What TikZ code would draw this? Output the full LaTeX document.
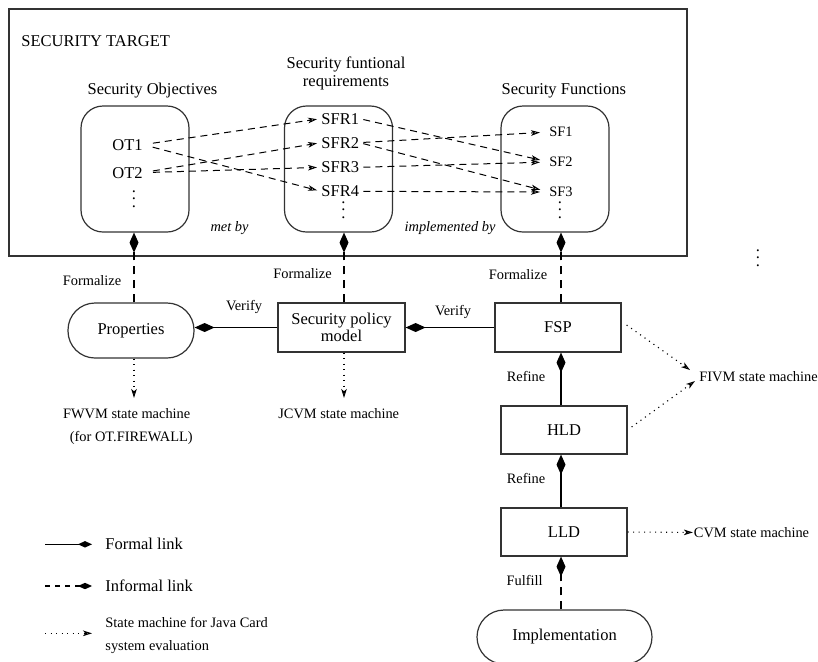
\documentclass[tikz,border=0pt]{standalone}
\usepackage{fontspec}
\setmainfont{Liberation Serif}
\usetikzlibrary{arrows.meta,calc}

\tikzset{
  bigtxt/.style={font=\fontsize{8.25}{9}\selectfont},
  smalltxt/.style={font=\fontsize{7.2}{8}\selectfont},
  slanttxt/.style={font=\fontsize{7.2}{8}\selectfont\itshape},
  dotcolumn/.style={inner sep=0pt, anchor=south, align=center, font=\fontsize{8.25}{3.75}\selectfont},
  frame/.style={draw=black!80, line width=0.6pt},
  grpbox/.style={frame, rounded corners=11pt, minimum width=54pt, minimum height=63pt, inner sep=0pt},
  capsule/.style={frame, rounded corners=13.5pt, inner sep=0pt, bigtxt},
  sqbox/.style={frame, inner sep=0pt, bigtxt, align=center},
  lbl/.style={inner sep=0pt, anchor=base},
  opentip/.tip={Stealth[open,length=4.5pt,width=2.8pt,inset=1.2pt]},
  tracearrow/.style={draw=black, line width=0.5pt, dash pattern=on 3.5pt off 2.5pt, -opentip},
  formallink/.style={draw=black, line width=0.7pt, -{Diamond[length=10pt,width=4.5pt]}},
  informallink/.style={formallink, dash pattern=on 4pt off 3pt},
  smarrow/.style={draw=black, line width=0.55pt, dash pattern=on 0.55pt off 2.2pt, -opentip},
}

\begin{document}
\begin{tikzpicture}[x=0.5pt,y=-0.5pt]
\useasboundingbox (0,0) rectangle (818,661);

% ---------- security target ----------
\node[frame, minimum width=339pt, minimum height=123.5pt, inner sep=0pt] (target) at (348,132.5) {};
\node[lbl, anchor=base west, bigtxt] (targetlbl) at (21,46.7) {SECURITY TARGET};

\node[grpbox] (so)  at (135,169) {};
\node[grpbox] (sfr) at (338.5,169) {};
\node[grpbox] (sf)  at (555,169) {};

\node[lbl, bigtxt] (solbl) at (152.5,94.3) {Security Objectives};
\node[inner sep=0pt, anchor=north, bigtxt, align=center] (sfrlbl) at (346,56) {Security funtional\\requirements};
\node[lbl, bigtxt] (sflbl) at (563.8,94) {Security Functions};

% objectives
\node[lbl, anchor=base east, bigtxt] (ot1) at (143,150) {OT1};
\node[lbl, anchor=base east, bigtxt] (ot2) at (143,178) {OT2};
\node[dotcolumn] (otdots) at (134,208) {.\\.\\.};

% functional requirements
\node[lbl, anchor=base west, bigtxt] (sfr1) at (321,124) {SFR1};
\node[lbl, anchor=base west, bigtxt] (sfr2) at (321,148) {SFR2};
\node[lbl, anchor=base west, bigtxt] (sfr3) at (321,172.7) {SFR3};
\node[lbl, anchor=base west, bigtxt] (sfr4) at (321,196.7) {SFR4};
\node[dotcolumn] (sfrdots) at (343.5,219) {.\\.\\.};

% functions
\node[lbl, anchor=base west, smalltxt] (sf1) at (549,136.7) {SF1};
\node[lbl, anchor=base west, smalltxt] (sf2) at (549,166.7) {SF2};
\node[lbl, anchor=base west, smalltxt] (sf3) at (549,196.7) {SF3};
\node[dotcolumn] (sfdots) at (560,219) {.\\.\\.};

\node[lbl, slanttxt] (metby) at (229.5,231) {met by};
\node[lbl, slanttxt] (implby) at (450,231) {implemented by};

% traceability
\begin{scope}[shorten <=5pt, shorten >=2pt]
  \draw[tracearrow] (ot1.east) -- (sfr1.west);
  \draw[tracearrow] (ot1.east) -- (sfr4.west);
  \draw[tracearrow] (ot2.east) -- (sfr2.west);
  \draw[tracearrow] (ot2.east) -- (sfr3.west);
\end{scope}
\begin{scope}[shorten <=2pt, shorten >=4.5pt]
  \draw[tracearrow] (sfr1.east) -- (sf2.west);
  \draw[tracearrow] (sfr2.east) -- (sf1.west);
  \draw[tracearrow] (sfr2.east) -- (sf3.west);
  \draw[tracearrow] (sfr3.east) -- (sf2.west);
  \draw[tracearrow] (sfr4.east) -- (sf3.west);
\end{scope}

% ---------- models ----------
\node[capsule, minimum width=63pt, minimum height=27.5pt] (prop) at (131,330.5) {Properties};
\node[sqbox, minimum width=63.5pt, minimum height=24.5pt, font=\fontsize{8.25}{8.4}\selectfont] (spm) at (341.5,327.5) {Security policy\\model};
\node[sqbox, minimum width=63pt, minimum height=24.5pt] (fsp) at (558,327.5) {FSP};
\node[sqbox, minimum width=63pt, minimum height=24pt] (hld) at (564,430) {HLD};
\node[sqbox, minimum width=63pt, minimum height=24pt] (lld) at (564,532) {LLD};
\node[capsule, minimum width=87.5pt, minimum height=27pt] (impl) at (564.5,637) {Implementation};

\coordinate (colA) at (134,0);
\coordinate (colB) at (344,0);
\coordinate (colC) at (561,0);

% formalisation of the security target
\draw[informallink] (prop.north -| colA) -- (so.south -| colA);
\draw[informallink] (spm.north -| colB) -- (sfr.south -| colB);
\draw[informallink] (fsp.north -| colC) -- (sf.south -| colC);
\node[lbl, smalltxt] (fmA) at (92,285.7) {Formalize};
\node[lbl, smalltxt] (fmB) at (302.5,278.3) {Formalize};
\node[lbl, smalltxt] (fmC) at (518,279.3) {Formalize};

% verification
\draw[formallink] (spm.west) -- (spm.west -| prop.east);
\draw[formallink] (fsp.west) -- (spm.east);
\node[lbl, smalltxt] (vfA) at (244,310) {Verify};
\node[lbl, smalltxt] (vfB) at (453,315.7) {Verify};

% refinement chain
\draw[formallink] (hld.north -| colC) -- (fsp.south -| colC);
\draw[formallink] (lld.north -| colC) -- (hld.south -| colC);
\draw[informallink] (impl.north -| colC) -- (lld.south -| colC);
\node[lbl, smalltxt] (rfA) at (526,381.7) {Refine};
\node[lbl, smalltxt] (rfB) at (526,483.3) {Refine};
\node[lbl, smalltxt] (ff) at (524.7,585.7) {Fulfill};

% state machines
\node[lbl, smalltxt] (fwvm) at (126.7,418.3) {FWVM state machine};
\node[lbl, smalltxt] (fwvmnote) at (131.3,441.7) {(for OT.FIREWALL)};
\node[lbl, smalltxt] (jcvm) at (338.7,418.3) {JCVM state machine};
\node[lbl, anchor=base west, smalltxt] (fivm) at (699,381.7) {FIVM state machine};
\node[lbl, anchor=base west, smalltxt] (cvm) at (693.5,537.3) {CVM state machine};
\coordinate (fivmin1) at (690,370);
\coordinate (fivmin2) at (695,381);

\draw[smarrow, shorten >=5pt] (prop.south -| colA) -- (fwvm.north -| colA);
\draw[smarrow, shorten >=5pt] (spm.south -| colB) -- (jcvm.north -| colB);
\draw[smarrow] ($(fsp.east)+(5,-2.5)$) -- (fivmin1);
\draw[smarrow] ($(hld.east)+(4,-3)$) -- (fivmin2);
\draw[smarrow, shorten >=0.3pt] (lld.east) -- (cvm.west);

\node[dotcolumn] (moredots) at (758,267) {.\\.\\.};

% ---------- legend ----------
\coordinate (lgA1) at (45,544.3);  \coordinate (lgA2) at (92,544.3);
\coordinate (lgB1) at (45,586);    \coordinate (lgB2) at (92,586);
\coordinate (lgC1) at (45,633.3);  \coordinate (lgC2) at (92,633.3);
\draw[formallink, -{Diamond[length=7pt,width=3.2pt]}] (lgA1) -- (lgA2);
\draw[informallink, dash pattern=on 2.5pt off 2.5pt, -{Diamond[length=7pt,width=3.2pt]}] (lgB1) -- (lgB2);
\draw[smarrow] (lgC1) -- (lgC2);
\node[lbl, anchor=base west, bigtxt] (lgAtxt) at (105,549.3) {Formal link};
\node[lbl, anchor=base west, bigtxt] (lgBtxt) at (105,591.7) {Informal link};
\node[lbl, anchor=base west, smalltxt] (lgCtxt1) at (105,627.7) {State machine for Java Card};
\node[lbl, anchor=base west, smalltxt] (lgCtxt2) at (105,650.7) {system evaluation};

\end{tikzpicture}
\end{document}
